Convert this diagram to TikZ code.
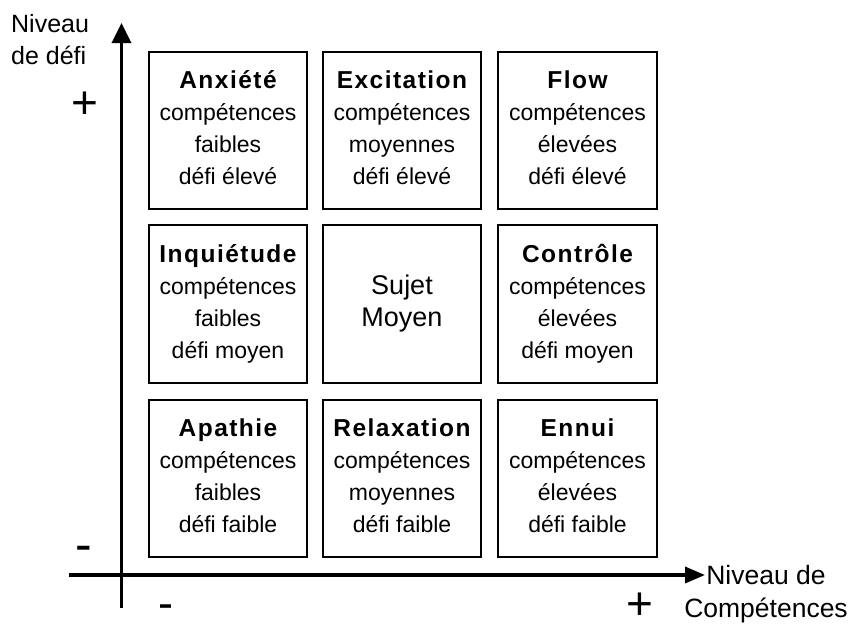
\documentclass[tikz,border=0pt]{standalone}
\usepackage{fontspec}
\setmainfont{Liberation Sans}
\usetikzlibrary{arrows.meta}
\newcommand\celltitle[1]{{\fontsize{24.5}{32}\bfseries\addfontfeature{LetterSpace=6}#1}}
\begin{document}
\begin{tikzpicture}[x=1pt,y=-1pt,
  cell/.style={draw=black, line width=1.6pt, minimum width=158.5pt, minimum height=157.5pt,
    inner sep=0pt, align=center, font=\fontsize{23}{32}\selectfont},
  axisline/.style={line width=3.5pt},
  lbl/.style={inner sep=0pt, font=\fontsize{25}{32}\selectfont},
  sign/.style={inner sep=0pt},
]
\useasboundingbox (0,0) rectangle (854,629);

% boxes
\node[cell] (anx) at (228,130.5) {\strut\celltitle{Anxiété}\\compétences\\faibles\\défi élevé\strut};
\node[cell] (exc) at (402,130.5) {\strut\celltitle{Excitation}\\compétences\\moyennes\\défi élevé\strut};
\node[cell] (flo) at (577.5,130.5) {\strut\celltitle{Flow}\\compétences\\élevées\\défi élevé\strut};
\node[cell] (inq) at (228,304) {\strut\celltitle{Inquiétude}\\compétences\\faibles\\défi moyen\strut};
\node[cell, font=\fontsize{27}{32}\selectfont] (suj) at (402,304) {\strut Sujet\\Moyen\strut};
\node[cell] (con) at (577.5,304) {\strut\celltitle{Contrôle}\\compétences\\élevées\\défi moyen\strut};
\node[cell] (apa) at (228,478.5) {\strut\celltitle{Apathie}\\compétences\\faibles\\défi faible\strut};
\node[cell] (rel) at (402,478.5) {\strut\celltitle{Relaxation}\\compétences\\moyennes\\défi faible\strut};
\node[cell] (enn) at (577.5,478.5) {\strut\celltitle{Ennui}\\compétences\\élevées\\défi faible\strut};

% axes
\coordinate (yb) at (121.5,608);
\coordinate (yt) at (121.5,23);
\coordinate (xl) at (69,575);
\coordinate (xr) at (705,575);
\draw[axisline, -{Triangle[length=20pt,width=19pt]}] (yb) -- (yt);
\draw[axisline, -{Triangle[length=20pt,width=16pt]}] (xl) -- (xr);

% axis labels
\node[lbl, anchor=north west, align=left] (ylab) at (11,9.6) {\strut Niveau\\de défi};
\node[lbl, anchor=north, align=center, font=\fontsize{26.5}{33}\selectfont] (xlab) at (766,560.9) {\strut Niveau de\\Compétences};

% signs
\node[sign, font=\fontsize{46}{50}\selectfont] (yplus) at (85,105) {+};
\node[sign, font=\fontsize{46}{50}\selectfont] (xplus) at (640,606.5) {+};
\node[sign, font=\fontsize{50}{54}\selectfont] (yminus) at (83.5,553.5) {-};
\node[sign, font=\fontsize{45}{50}\selectfont] (xminus) at (165.5,611.5) {-};
\end{tikzpicture}
\end{document}
